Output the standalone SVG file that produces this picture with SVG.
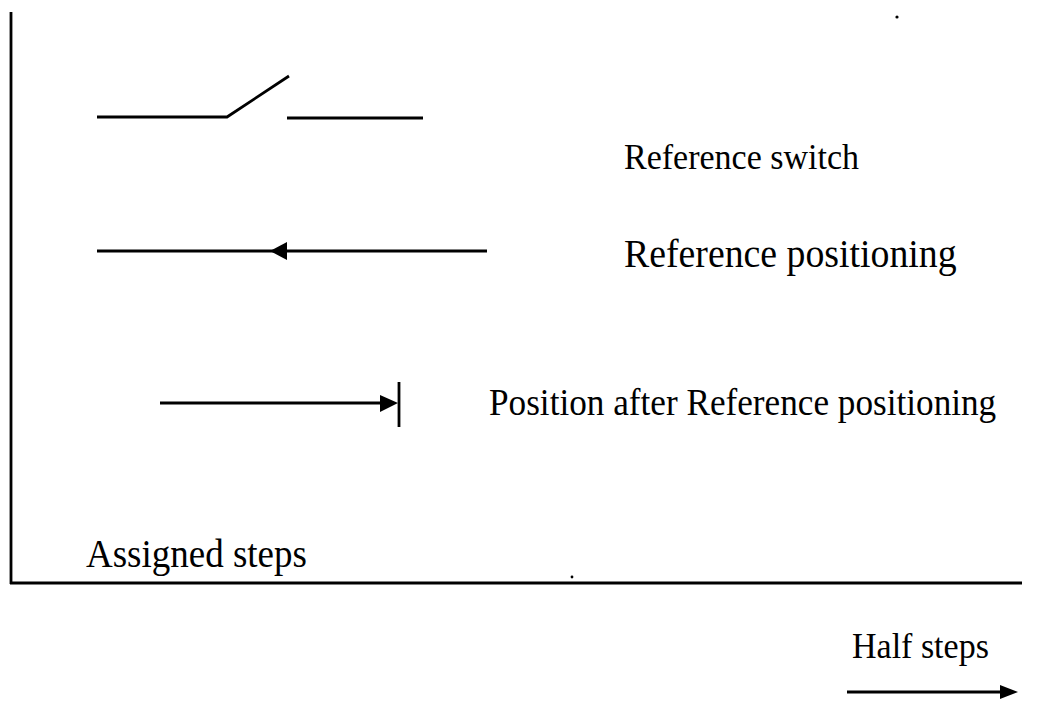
<svg xmlns="http://www.w3.org/2000/svg" width="1041" height="701" viewBox="0 0 1041 701">
<style>
.ln{stroke:#000;stroke-width:2.8;fill:none;stroke-linecap:butt}
.ah{fill:#000;stroke:none}
.t{font-family:"Liberation Serif","Times New Roman",serif;fill:#000}
</style>
<rect width="1041" height="701" fill="#fff"/>
<g id="axes">
<line class="ln" x1="11" y1="12" x2="11" y2="584"/>
<line class="ln" x1="10" y1="583" x2="1022" y2="583"/>
</g>
<g id="connectors">
<g id="switch">
<polyline class="ln" points="97,117 227,117 289,76"/>
<line class="ln" x1="287" y1="118" x2="423" y2="118"/>
</g>
<g id="ref-positioning-arrow">
<line class="ln" x1="97" y1="251" x2="487" y2="251"/>
<polygon class="ah" points="270,251 287,242 287,260"/>
</g>
<g id="position-after-arrow">
<line class="ln" x1="160" y1="403" x2="390" y2="403"/>
<polygon class="ah" points="398,403 380,395 380,412"/>
<line class="ln" x1="399" y1="382" x2="399" y2="427"/>
</g>
<g id="half-steps-arrow">
<line class="ln" x1="847" y1="692" x2="1005" y2="692"/>
<polygon class="ah" points="1018,692 1000,685 1000,699"/>
</g>
</g>
<g id="label-reference-switch"><text class="t" transform="translate(624,169) scale(1,1.08)" font-size="34">Reference switch</text></g>
<g id="label-reference-positioning"><text class="t" transform="translate(624,267) scale(1,1.08)" font-size="37.8">Reference positioning</text></g>
<g id="label-position-after"><text class="t" transform="translate(489,415) scale(1,1.08)" font-size="35.2">Position after Reference positioning</text></g>
<g id="label-assigned-steps"><text class="t" transform="translate(86,567) scale(1,1.08)" font-size="37">Assigned steps</text></g>
<g id="label-half-steps"><text class="t" transform="translate(852,658) scale(1,1.08)" font-size="34">Half steps</text></g>
<g id="specks">
<circle cx="897" cy="17" r="1.6" fill="#000"/>
<circle cx="572" cy="577" r="1.4" fill="#000"/>
</g>
</svg>
